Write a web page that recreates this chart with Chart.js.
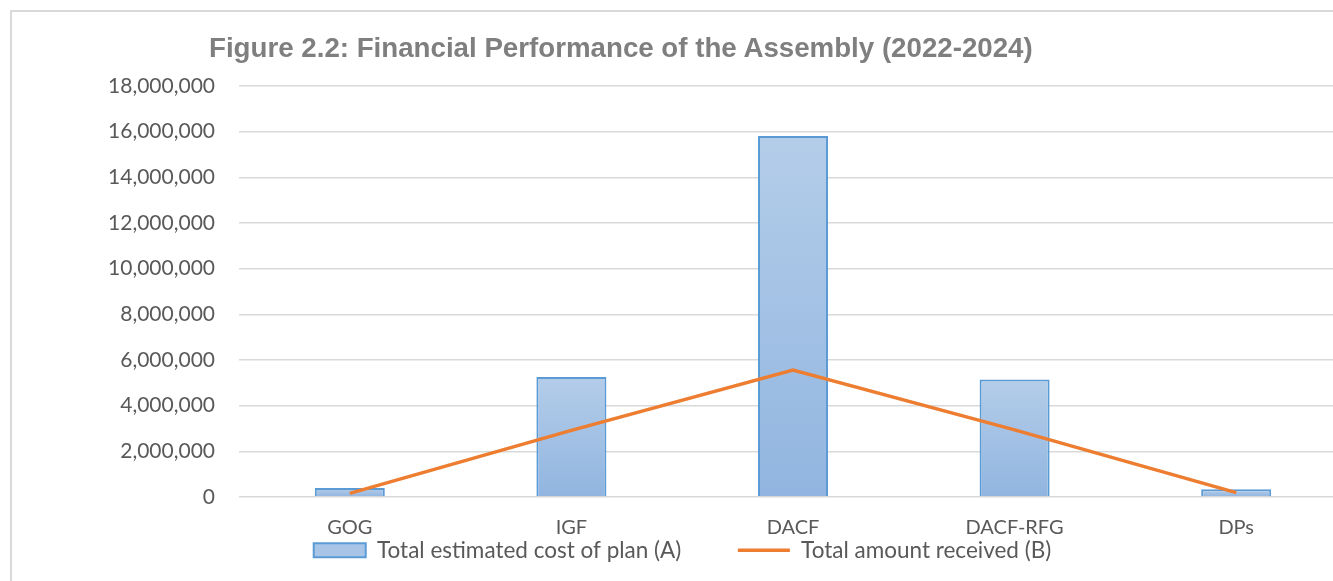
<!DOCTYPE html>
<html>
<head>
<meta charset="utf-8">
<script src="https://cdn.jsdelivr.net/npm/chart.js@4.4.1/dist/chart.umd.min.js"></script>
<style>
  html, body { margin: 0; padding: 0; background: #fff; overflow: hidden; width: 1333px; height: 581px; }
  .frame { position: absolute; left: 10px; top: 10px; width: 1400px; height: 600px; border-left: 2px solid #d9d9d9; border-top: 2px solid #d9d9d9; }
  .chart-wrap { position: absolute; left: 0; top: 0; width: 1365px; height: 581px; }
  .chart-title { position: absolute; left: 209px; top: 34px; margin: 0; font: bold 27.7px "Liberation Sans", Arial, sans-serif; line-height: 1; color: #7f7f7f; white-space: nowrap; }
</style>
</head>
<body>
<div class="frame"></div>
<div class="chart-wrap"><canvas id="financeChart"></canvas></div>
<h1 class="chart-title">Figure 2.2: Financial Performance of the Assembly (2022-2024)</h1>
<script>
const categories = ["GOG", "IGF", "DACF", "DACF-RFG", "DPs"];
const estimatedCost = [390000, 5260000, 15810000, 5150000, 340000];
const amountReceived = [160000, 2920000, 5560000, 2940000, 190000];
const yTicks = [0, 2000000, 4000000, 6000000, 8000000, 10000000, 12000000, 14000000, 16000000, 18000000];
const seriesNames = ["Total estimated cost of plan (A)", "Total amount received (B)"];

const textColor = "#595959";
const gridColor = "#d9d9d9";
const barBorder = "#5b9bd5";
const lineColor = "#ed7d31";
const fontFamily = "Lato, 'Open Sans', sans-serif";

// excel-ish per-bar vertical gradient
function barGradient(ctx) {
  const chart = ctx.chart;
  const y = chart.scales.y;
  if (!chart.chartArea || !y || ctx.type !== "data") return "#a4c2e6";
  const top = y.getPixelForValue(ctx.raw);
  const base = y.getPixelForValue(0);
  const g = chart.ctx.createLinearGradient(0, top, 0, base);
  g.addColorStop(0, "#b4cde9");
  g.addColorStop(1, "#91b5e0");
  return g;
}

new Chart(document.getElementById("financeChart"), {
  data: {
    labels: categories,
    datasets: [
      {
        type: "bar",
        label: seriesNames[0],
        data: estimatedCost,
        backgroundColor: barGradient,
        borderColor: barBorder,
        borderWidth: 2,
        categoryPercentage: 1,
        barPercentage: 0.316,
        order: 2,
      },
      {
        type: "line",
        label: seriesNames[1],
        data: amountReceived,
        borderColor: lineColor,
        backgroundColor: lineColor,
        borderWidth: 3.5,
        pointRadius: 0,
        tension: 0,
        order: 1,
      },
    ],
  },
  options: {
    responsive: true,
    maintainAspectRatio: false,
    animation: false,
    layout: { padding: { top: 86, right: 18, left: 18, bottom: 9.5 } },
    plugins: {
      title: { display: false },
      tooltip: { enabled: false },
      legend: {
        position: "bottom",
        labels: {
          usePointStyle: true,
          pointStyleWidth: 52,
          boxHeight: 14,
          padding: 0,
          color: textColor,
          font: { family: fontFamily, size: 22.5 },
          generateLabels: () => [
            { text: seriesNames[0] + "  \u2003\u2003\u2002", fillStyle: "#a8c5e8", strokeStyle: barBorder, lineWidth: 2, pointStyle: "rect", datasetIndex: 0, fontColor: textColor },
            { text: seriesNames[1], fillStyle: lineColor, strokeStyle: lineColor, lineWidth: 3.5, pointStyle: "line", datasetIndex: 1, fontColor: textColor },
          ],
        },
      },
    },
    scales: {
      x: {
        grid: { display: false, drawTicks: false },
        border: { display: false },
        ticks: { color: textColor, padding: 19, font: { family: fontFamily, size: 20 } },
        afterFit: s => { s.height = 42; },
      },
      y: {
        min: 0,
        max: 18000000,
        afterBuildTicks: s => { s.ticks = yTicks.map(v => ({ value: v })); },
        grid: { color: gridColor, lineWidth: 1.5, drawTicks: false },
        border: { display: false },
        ticks: {
          color: textColor,
          padding: 24,
          font: { family: fontFamily, size: 21 },
          callback: v => v.toLocaleString("en-US"),
        },
        afterFit: s => { s.width = 221; },
      },
    },
  },
});
</script>
</body>
</html>
